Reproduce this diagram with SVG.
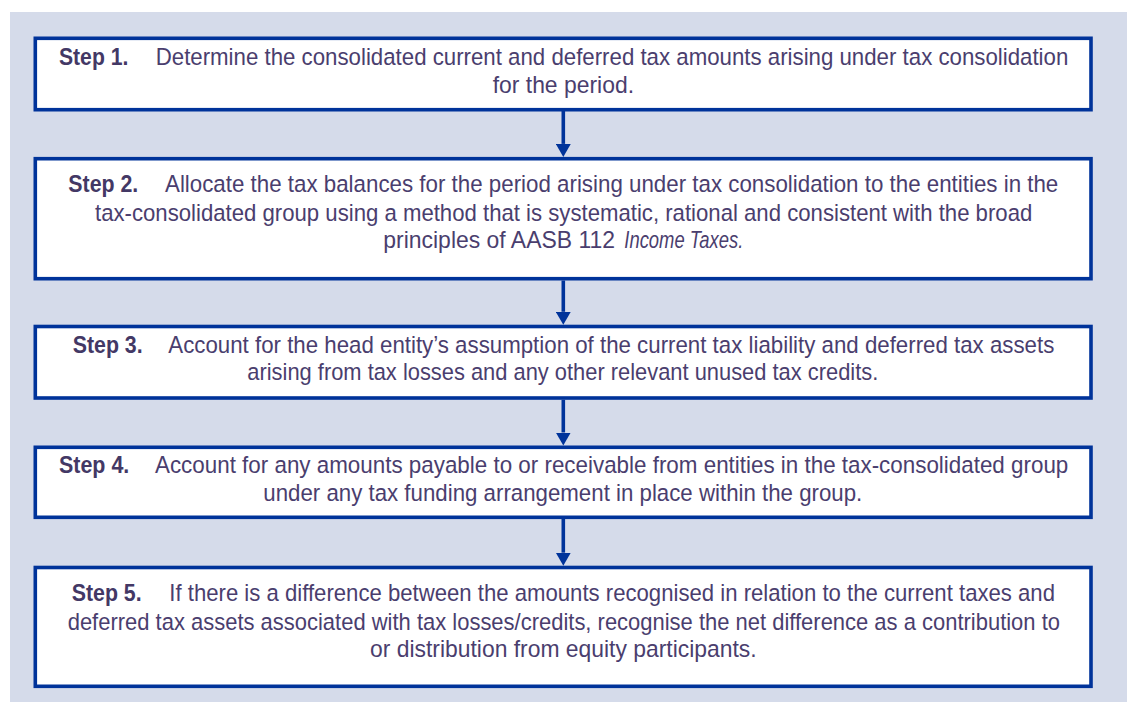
<svg xmlns="http://www.w3.org/2000/svg" width="1127" height="702" viewBox="0 0 1127 702">
<style>
.box{fill:#ffffff;stroke:#00339a;stroke-width:3.6}
.t{font-family:"Liberation Sans",Arial,sans-serif;font-size:24.5px;fill:#4a3e6e}
.b{font-weight:bold;fill:#433865}
.i{font-style:italic}
.c{stroke:#00339a;stroke-width:3.6;fill:none}
</style>
<defs>
<marker id="ah" viewBox="0 -7.5 13 15" refX="0" refY="0" markerWidth="13" markerHeight="15" markerUnits="userSpaceOnUse" orient="auto">
<path d="M0,-7.5 L13,0 L0,7.5 Z" fill="#00339a"/>
</marker>
</defs>
<rect x="10" y="12" width="1117" height="690" fill="#d5dbea"/>
<g id="connectors">
<line class="c" x1="563.3" y1="111" x2="563.3" y2="143.9" marker-end="url(#ah)"/>
<line class="c" x1="563.3" y1="280.5" x2="563.3" y2="311.8" marker-end="url(#ah)"/>
<line class="c" x1="563.3" y1="399.8" x2="563.3" y2="432.5" marker-end="url(#ah)"/>
<line class="c" x1="563.3" y1="519" x2="563.3" y2="552.7" marker-end="url(#ah)"/>
</g>
<g id="step1">
<rect class="box" x="35.3" y="38.3" width="1055.7" height="71.4"/>
<g transform="scale(0.85,1)">
<text class="t b" x="69.41" y="65" textLength="81.53" lengthAdjust="spacingAndGlyphs">Step 1.</text>
<text class="t" x="183.18" y="65" textLength="1073.65" lengthAdjust="spacingAndGlyphs">Determine the consolidated current and deferred tax amounts arising under tax consolidation</text>
<text class="t" x="579.65" y="93" textLength="166.24" lengthAdjust="spacingAndGlyphs">for the period.</text>
</g>
</g>
<g id="step2">
<rect class="box" x="35.3" y="158.7" width="1055.7" height="120"/>
<g transform="scale(0.85,1)">
<text class="t b" x="80.35" y="192.3" textLength="82.35" lengthAdjust="spacingAndGlyphs">Step 2.</text>
<text class="t" x="194.12" y="192.3" textLength="1050.94" lengthAdjust="spacingAndGlyphs">Allocate the tax balances for the period arising under tax consolidation to the entities in the</text>
<text class="t" x="111.76" y="221" textLength="1102.71" lengthAdjust="spacingAndGlyphs">tax-consolidated group using a method that is systematic, rational and consistent with the broad</text>
<text class="t" x="450.94" y="248.5" textLength="272.59" lengthAdjust="spacingAndGlyphs">principles of AASB 112</text>
<text class="t i" x="734.47" y="248.5" textLength="140" lengthAdjust="spacingAndGlyphs">Income Taxes.</text>
</g>
</g>
<g id="step3">
<rect class="box" x="35.3" y="326.5" width="1055.7" height="71.5"/>
<g transform="scale(0.85,1)">
<text class="t b" x="85.53" y="353" textLength="82.35" lengthAdjust="spacingAndGlyphs">Step 3.</text>
<text class="t" x="198" y="353" textLength="1042.35" lengthAdjust="spacingAndGlyphs">Account for the head entity’s assumption of the current tax liability and deferred tax assets</text>
<text class="t" x="290.94" y="380" textLength="742.35" lengthAdjust="spacingAndGlyphs">arising from tax losses and any other relevant unused tax credits.</text>
</g>
</g>
<g id="step4">
<rect class="box" x="35.3" y="447.3" width="1055.7" height="70"/>
<g transform="scale(0.85,1)">
<text class="t b" x="69.41" y="473" textLength="82.71" lengthAdjust="spacingAndGlyphs">Step 4.</text>
<text class="t" x="182.35" y="473" textLength="1074.47" lengthAdjust="spacingAndGlyphs">Account for any amounts payable to or receivable from entities in the tax-consolidated group</text>
<text class="t" x="309.76" y="501.3" textLength="704.71" lengthAdjust="spacingAndGlyphs">under any tax funding arrangement in place within the group.</text>
</g>
</g>
<g id="step5">
<rect class="box" x="35.3" y="567.5" width="1055.7" height="118.8"/>
<g transform="scale(0.85,1)">
<text class="t b" x="84.35" y="601" textLength="82.35" lengthAdjust="spacingAndGlyphs">Step 5.</text>
<text class="t" x="199.18" y="601" textLength="1042" lengthAdjust="spacingAndGlyphs">If there is a difference between the amounts recognised in relation to the current taxes and</text>
<text class="t" x="79.65" y="629.7" textLength="1167.41" lengthAdjust="spacingAndGlyphs">deferred tax assets associated with tax losses/credits, recognise the net difference as a contribution to</text>
<text class="t" x="435.29" y="657.5" textLength="454.94" lengthAdjust="spacingAndGlyphs">or distribution from equity participants.</text>
</g>
</g>
</svg>
